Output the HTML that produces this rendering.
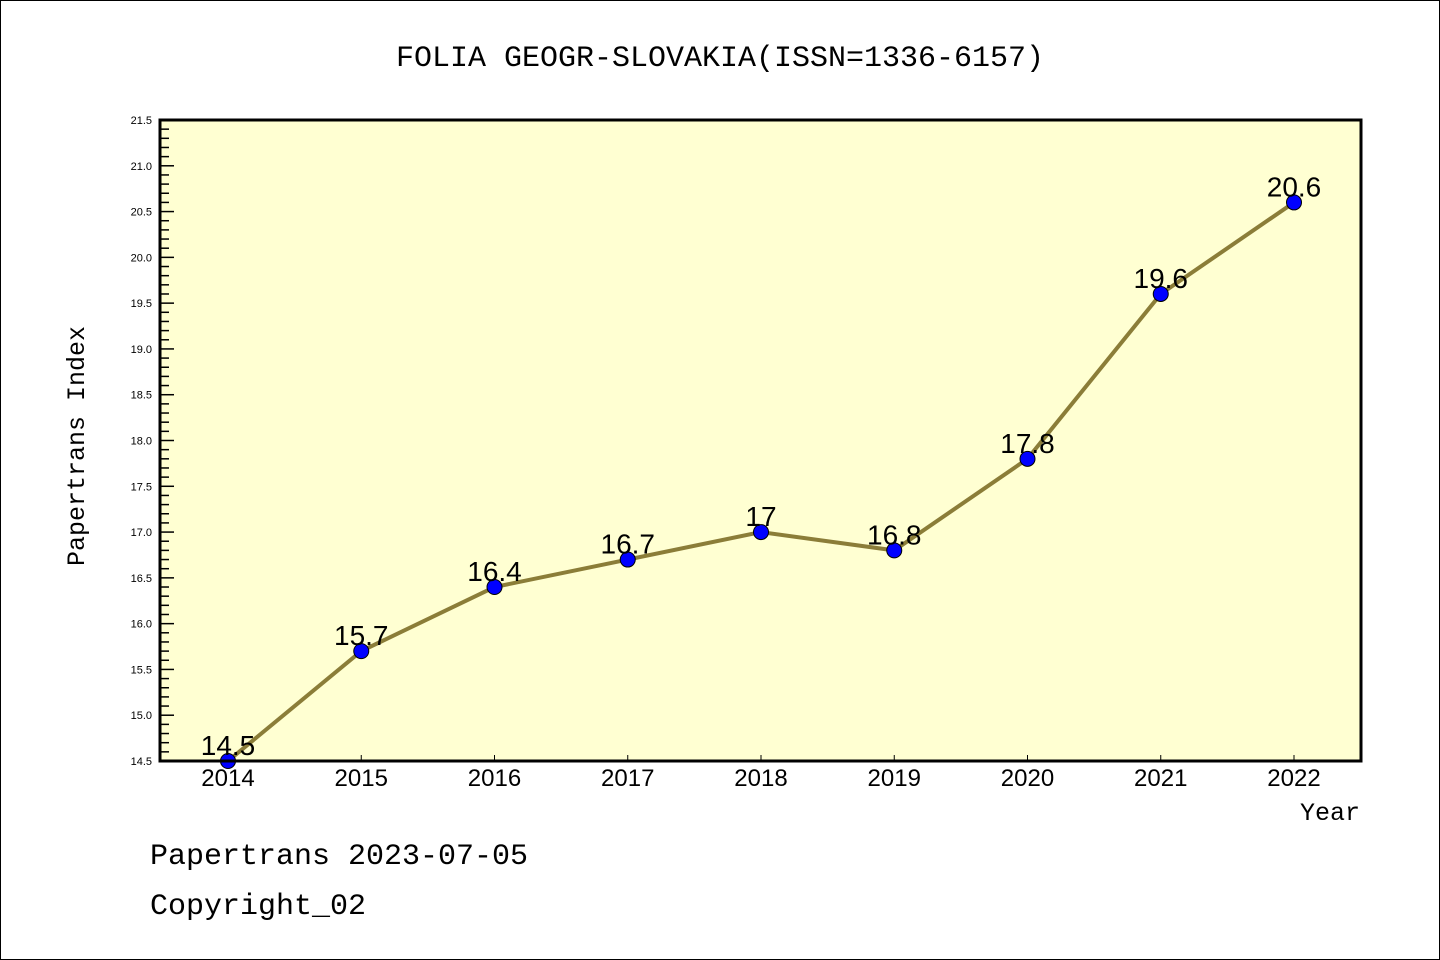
<!DOCTYPE html>
<html><head><meta charset="utf-8"><style>
html,body{margin:0;padding:0;background:#fff;}
svg{display:block;font-family:"Liberation Mono","Noto Sans CJK SC",monospace;}
</style></head><body>
<svg id="chart" width="1440" height="960" xmlns="http://www.w3.org/2000/svg">
<rect x="0.5" y="0.5" width="1439" height="959" fill="#fff" stroke="#000"/>
<text x="720" y="66" text-anchor="middle" font-size="30">FOLIA GEOGR-SLOVAKIA(ISSN=1336-6157)</text>
<rect x="160" y="120" width="1201" height="641" fill="#ffffd2"/>
<g id="axes"></g>
<g id="series"></g>
<rect x="160" y="120" width="1201" height="641" fill="none" stroke="#000" stroke-width="3"/>
<text transform="translate(84,446) rotate(-90)" text-anchor="middle" font-size="25">Papertrans Index</text>
<text x="1360" y="820" text-anchor="end" font-size="25">Year</text>
<text x="150" y="864" font-size="30">Papertrans 2023-07-05</text>
<text x="150" y="914" font-size="30">Copyright_02</text>
</svg>
<script>
const years = [2014,2015,2016,2017,2018,2019,2020,2021,2022];
const values = [14.5,15.7,16.4,16.7,17,16.8,17.8,19.6,20.6];
const valueLabels = ["14.5","15.7","16.4","16.7","17","16.8","17.8","19.6","20.6"];
const yTicks = ["14.5","15.0","15.5","16.0","16.5","17.0","17.5","18.0","18.5","19.0","19.5","20.0","20.5","21.0","21.5"];
const NS="http://www.w3.org/2000/svg";
const yMin=14.5,yMax=21.5,plotTop=120,plotBot=761;
function y(v){return plotBot-(v-yMin)/(yMax-yMin)*(plotBot-plotTop);}
function x(yr){return 228+(yr-2014)*133.25;}
function mk(tag,attrs,parent){const e=document.createElementNS(NS,tag);for(const k in attrs)e.setAttribute(k,attrs[k]);parent.appendChild(e);return e;}
const axes=document.getElementById('axes'), ser=document.getElementById('series');
for(let i=0;i<=70;i++){
  const v=yMin+i*0.1, yy=y(v), major=i%5===0;
  const t=mk('line',{x1:160,x2:160+(major?14:9),y1:yy,y2:yy,stroke:'#000','stroke-width':1.5},axes);
  
  
}
yTicks.forEach(s=>{
  const t=mk('text',{x:152,y:y(parseFloat(s))+4,'text-anchor':'end','font-size':11,'font-family':'Liberation Sans, sans-serif'},axes);
  t.textContent=s;
  
  
});
years.forEach(yr=>{
  const t=mk('line',{x1:x(yr),x2:x(yr),y1:761,y2:755,stroke:'#000','stroke-width':1},axes);
  
  
  const l=mk('text',{x:x(yr),y:786,'text-anchor':'middle','font-size':24,'font-family':'Liberation Sans, sans-serif'},axes);
  l.textContent=yr;
  
  
});
const line=mk('polyline',{points:years.map((yr,i)=>x(yr)+','+y(values[i])).join(' '),fill:'none',stroke:'#8b7d38','stroke-width':4},ser);


years.forEach((yr,i)=>{
  const c=mk('circle',{cx:x(yr),cy:y(values[i]),r:7.5,fill:'#0000ff',stroke:'#000','stroke-width':1},ser);
  
  
  const l=mk('text',{x:x(yr),y:y(values[i])-6,'text-anchor':'middle','font-size':28,'font-family':'Liberation Sans, sans-serif'},ser);
  l.textContent=valueLabels[i];
  
  
});
</script>
</body></html>
